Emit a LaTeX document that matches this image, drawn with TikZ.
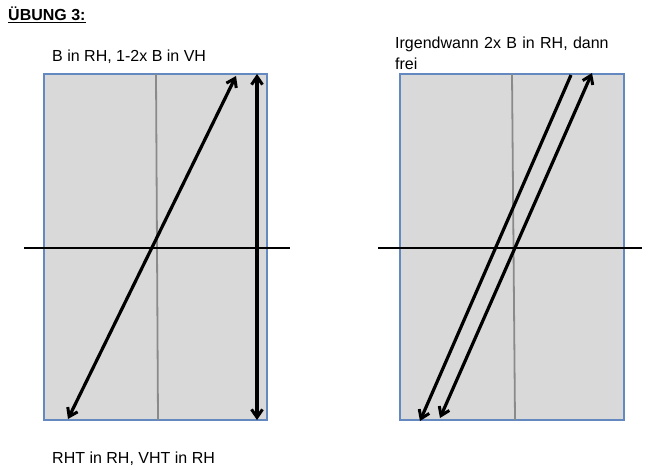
\documentclass[tikz,border=0pt]{standalone}
\usepackage{fontspec}
\setmainfont{Liberation Sans}
\usetikzlibrary{arrows.meta}
\definecolor{boxfill}{HTML}{D9D9D9}
\definecolor{boxline}{HTML}{6389C0}
\definecolor{midline}{HTML}{8A8A8A}
\begin{document}
\begin{tikzpicture}[x=1pt,y=-1pt,
  panel/.style={fill=boxfill,draw=boxline,line width=1.5pt},
  centre/.style={draw=midline,line width=1.8pt},
  axis/.style={draw=black,line width=1.5pt},
  tip/.style={},
  arr/.style={draw=black,line width=3.2pt,-{Straight Barb[length=8pt,width=11pt,line width=3pt]}},
  darr/.style={draw=black,line width=3.2pt,{Straight Barb[length=8pt,width=11pt,line width=3pt]}-{Straight Barb[length=8pt,width=11pt,line width=3pt]}},
  lbl/.style={anchor=base west,inner sep=0pt,font=\fontsize{16}{21}\selectfont}]
\useasboundingbox (0,0) rectangle (650,470);
% title
\node[lbl,font=\fontsize{16}{21}\selectfont\bfseries] (title) at (8,21) {\underline{ÜBUNG 3:}};
% left panel
\node[lbl] (t1) at (52,62) {B in RH, 1-2x B in VH};
\draw[panel] (44,74) rectangle (267,420);
\coordinate (lc1) at (156,74); \coordinate (lc2) at (158,420);
\draw[centre] (lc1) -- (lc2);
\coordinate (lh1) at (24,248); \coordinate (lh2) at (290,248);
\draw[axis] (lh1) -- (lh2);
\coordinate (la1) at (236,76); \coordinate (la2) at (68,419);
\draw[darr] (la2) -- (la1);
\coordinate (lv1) at (257,74); \coordinate (lv2) at (257,420);
\draw[darr] (lv2) -- (lv1);
\node[lbl] (t3) at (52,463) {RHT in RH, VHT in RH};
% right panel
\node[lbl,align=left,text width=250pt,anchor=north west] (t2) at (395,37) {Irgendwann 2x B in RH, dann\\frei};
\draw[panel] (400,74) rectangle (624,420);
\coordinate (rc1) at (512,74); \coordinate (rc2) at (515,420);
\draw[centre] (rc1) -- (rc2);
\coordinate (rh1) at (378,248); \coordinate (rh2) at (642,248);
\draw[axis] (rh1) -- (rh2);
\coordinate (ra1) at (571,75); \coordinate (ra2) at (420,421);
\draw[arr] (ra1) -- (ra2);
\coordinate (rb1) at (592,73); \coordinate (rb2) at (440,418);
\draw[darr] (rb2) -- (rb1);
\end{tikzpicture}
\end{document}
